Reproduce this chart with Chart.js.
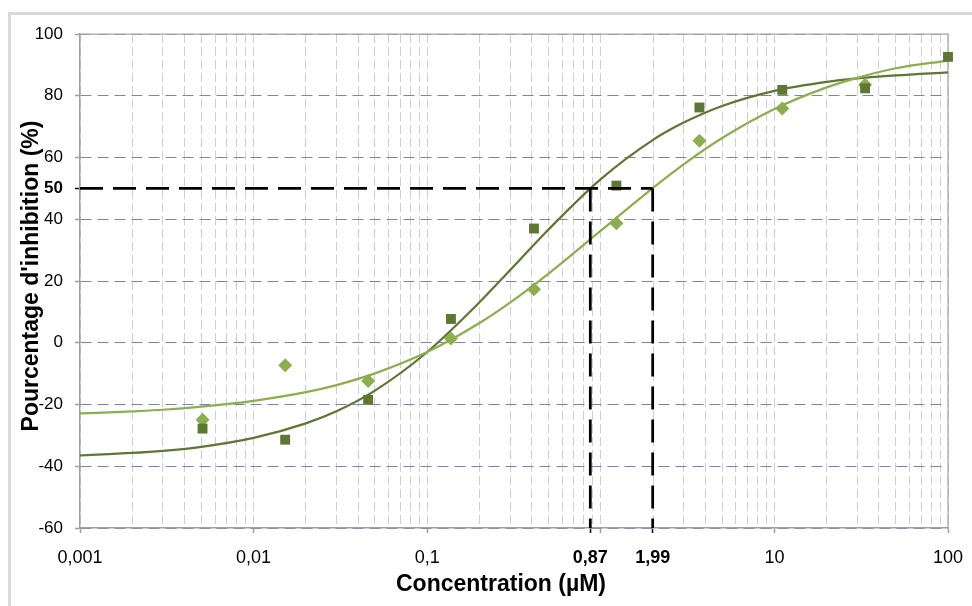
<!DOCTYPE html>
<html lang="fr">
<head>
<meta charset="UTF-8">
<title>Pourcentage d'inhibition</title>
<script src="https://cdn.jsdelivr.net/npm/chart.js"></script>
<style>
  body { margin: 0; background: #fff; }
  .cadre { position: absolute; left: 8px; top: 12px; width: 1000px; height: 640px; border: 3px solid #d9d9d9; }
  #graphe { position: absolute; left: 0; top: 0; }
</style>
</head>
<body>
<div class="cadre"></div>
<canvas id="graphe" width="972" height="606"></canvas>
<script>
// données
const concentrations = [0.00508, 0.0152, 0.0457, 0.137, 0.412, 1.23, 3.70, 11.1, 33.3, 100];
const inhibitionCarres = [-27.8, -31.4, -18.5, 7.7, 37.0, 50.9, 76.2, 81.9, 82.4, 92.6];
// le dernier losange est caché sous le carré : non visible
const inhibitionLosanges = [-24.9, -7.3, -12.4, 1.4, 17.3, 38.7, 65.4, 75.9, 83.6, null];

// courbes d'ajustement (points relevés le long des courbes)
const concAjust = [0.001, 0.002, 0.003, 0.005, 0.01, 0.02, 0.03, 0.05, 0.1, 0.2, 0.3, 0.5, 1, 2, 3, 5, 10, 20, 30, 50, 100];
const ajustCarres = [-36.5, -35.7, -35.0, -33.7, -30.8, -26.1, -22.2, -15.5, -3.0, 13.1, 23.5, 36.7, 53.0, 65.7, 71.3, 76.7, 81.6, 84.5, 85.6, 86.6, 87.6];
const ajustLosanges = [-22.9, -22.2, -21.7, -20.7, -18.8, -16.0, -13.7, -9.9, -3.0, 6.4, 13.0, 22.4, 36.3, 50.2, 57.8, 66.3, 75.7, 82.7, 85.8, 88.9, 91.4];

const ci50 = [0.87, 1.99];
const niveau50 = 50;

const ticksY = [-60, -40, -20, 0, 20, 40, 50, 60, 80, 100];
const decadesX = [0.001, 0.01, 0.1, 1, 10, 100];
const labelsX = ['0,001', '0,01', '0,1', '', '10', '100'];

const titreX = 'Concentration (µM)';
const titreY = "Pourcentage d'inhibition (%)";

const VERT_FONCE = '#5f7734';
const VERT_CLAIR = '#8dae4f';
const POLICE = '"Liberation Sans", Arial, sans-serif';

// graduations mineures 2..9 de chaque décade
const mineursX = [];
for (let i = 0; i < decadesX.length - 1; i++) {
  for (let k = 2; k <= 9; k++) mineursX.push(decadesX[i] * k);
}
const ticksX = decadesX.concat(mineursX, ci50).sort((a, b) => a - b);

const pts = (xs, ys) => xs.map((x, i) => ({ x: x, y: ys[i] }));

const traits = [
  [{ x: decadesX[0], y: niveau50 }, { x: Math.max(...ci50), y: niveau50 }]
].concat(ci50.map(c => [{ x: c, y: niveau50 }, { x: c, y: ticksY[0] }]));

const datasets = [
  {
    data: pts(concentrations, inhibitionCarres),
    pointStyle: 'rect', pointRadius: 7, pointHoverRadius: 7,
    backgroundColor: VERT_FONCE, borderColor: VERT_FONCE, borderWidth: 0,
    clip: false, order: 1
  },
  {
    data: pts(concentrations, inhibitionLosanges),
    pointStyle: 'rectRot', pointRadius: 7, pointHoverRadius: 7,
    backgroundColor: VERT_CLAIR, borderColor: VERT_CLAIR, borderWidth: 0,
    clip: false, order: 2
  },
  {
    data: pts(concAjust, ajustCarres), showLine: true, pointRadius: 0,
    borderColor: VERT_FONCE, borderWidth: 2.25, cubicInterpolationMode: 'monotone', order: 4
  },
  {
    data: pts(concAjust, ajustLosanges), showLine: true, pointRadius: 0,
    borderColor: VERT_CLAIR, borderWidth: 2.25, cubicInterpolationMode: 'monotone', order: 3
  }
].concat(traits.map(t => ({
  data: t, showLine: true, pointRadius: 0,
  borderColor: '#000', borderWidth: 2.75, borderDash: [23, 10], order: 0
})));

const cadrePlugin = {
  id: 'cadreTitres',
  beforeDatasetsDraw(chart) {
    const { ctx, chartArea: a } = chart;
    ctx.save();
    ctx.strokeStyle = '#a6a6a6';
    ctx.lineWidth = 1.25;
    ctx.beginPath();
    ctx.moveTo(a.left, a.top);
    ctx.lineTo(a.right, a.top);
    ctx.lineTo(a.right, a.bottom);
    ctx.stroke();
    ctx.restore();
  },
  afterDraw(chart) {
    const ctx = chart.ctx;
    ctx.save();
    ctx.fillStyle = '#000';
    ctx.font = 'bold 23px ' + POLICE;
    ctx.textAlign = 'center';
    ctx.textBaseline = 'middle';
    ctx.fillText(titreX, 501, 585);
    ctx.translate(32, 276);
    ctx.rotate(-Math.PI / 2);
    ctx.fillText(titreY, 0, 0);
    ctx.restore();
  }
};

const policeTick = (taille, gras) => ({ family: POLICE, size: taille, weight: gras ? 'bold' : 'normal' });
const valeur = c => (c && c.tick ? c.tick.value : null);

new Chart(document.getElementById('graphe'), {
  type: 'scatter',
  data: { datasets: datasets },
  options: {
    responsive: false,
    animation: false,
    devicePixelRatio: 1,
    layout: { padding: { left: 0, top: 34, right: 24, bottom: 0 } },
    plugins: { legend: { display: false }, tooltip: { enabled: false } },
    scales: {
      x: {
        type: 'logarithmic', min: decadesX[0], max: decadesX[decadesX.length - 1],
        afterBuildTicks: s => { s.ticks = ticksX.map(v => ({ value: v })); },
        afterFit: s => { s.height = 78; s.paddingLeft = 0; s.paddingRight = 0; },
        ticks: {
          autoSkip: false, maxRotation: 0, minRotation: 0, padding: 14, color: '#000',
          font: c => policeTick(18, ci50.includes(valeur(c))),
          callback: (v, i, t) => {
            const val = t[i].value;
            const d = decadesX.indexOf(val);
            if (d >= 0) return labelsX[d];
            if (ci50.includes(val)) return String(val).replace('.', ',');
            return '';
          }
        },
        grid: {
          color: c => ci50.includes(valeur(c)) ? 'rgba(0,0,0,0)' : '#cfcfcf',
          lineWidth: 1, tickLength: 5, tickWidth: 1.5,
          tickColor: c => {
            const v = valeur(c);
            if (ci50.includes(v)) return '#000';
            return decadesX.includes(v) ? '#a0a0a0' : 'rgba(0,0,0,0)';
          }
        },
        border: { color: '#a0a0a0', width: 1.5, dash: [9, 4] }
      },
      y: {
        min: ticksY[0], max: ticksY[ticksY.length - 1],
        afterBuildTicks: s => { s.ticks = ticksY.map(v => ({ value: v })); },
        afterFit: s => { s.width = 80; s.paddingTop = 0; s.paddingBottom = 0; },
        ticks: {
          padding: 12, color: '#000',
          font: c => policeTick(17, valeur(c) === niveau50),
          callback: v => String(v)
        },
        grid: {
          color: c => valeur(c) === niveau50 ? 'rgba(0,0,0,0)' : '#8080b2',
          lineWidth: 1, tickLength: 5, tickWidth: 1.5,
          tickColor: c => valeur(c) === niveau50 ? '#000' : '#a0a0a0'
        },
        border: { color: '#a0a0a0', width: 1.5, dash: [11, 6] }
      }
    }
  },
  plugins: [cadrePlugin]
});
</script>
</body>
</html>
